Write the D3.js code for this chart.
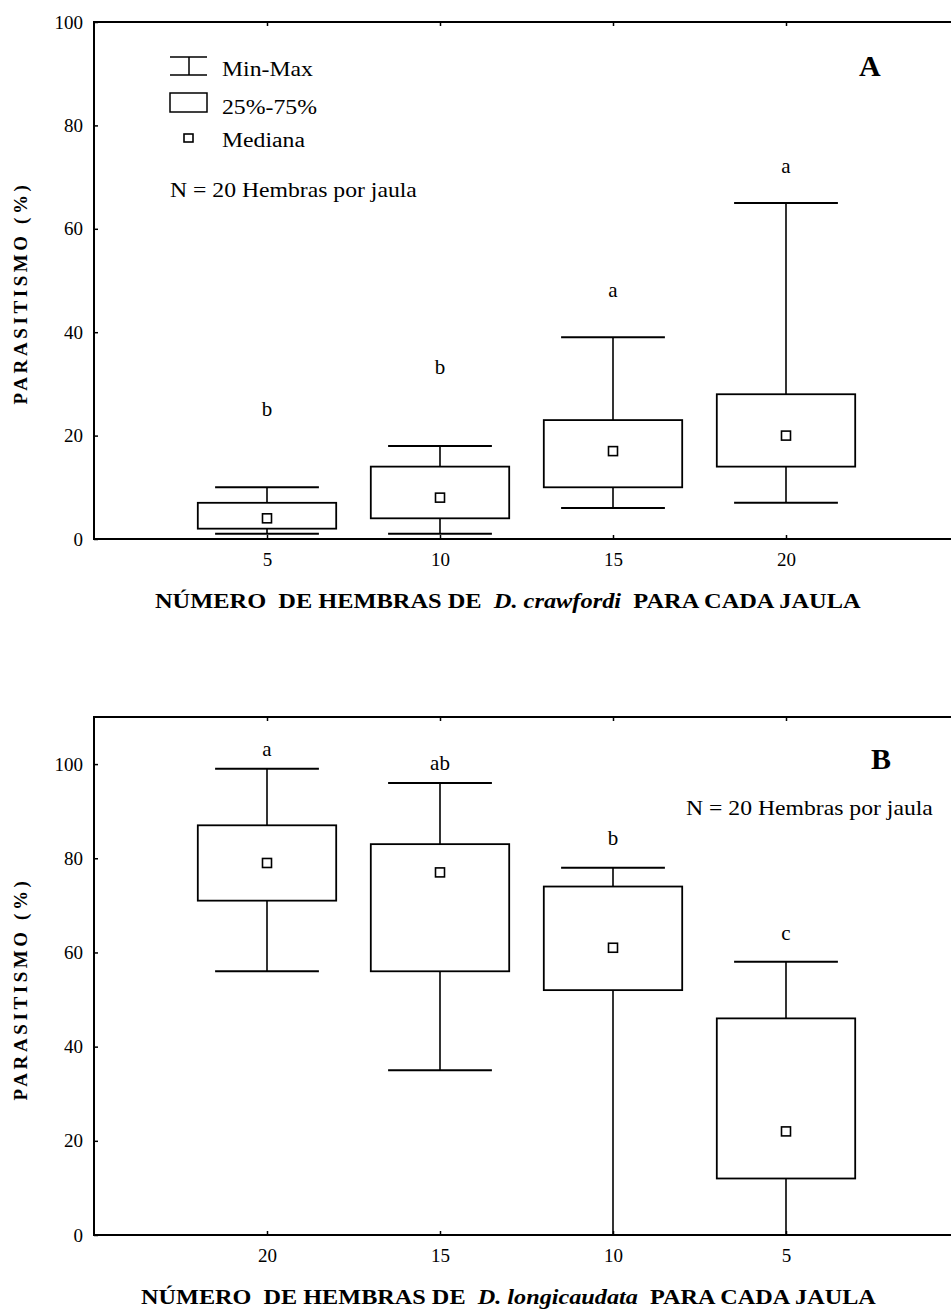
<!DOCTYPE html>
<html>
<head>
  <style>
    body { margin: 0; background: #fff; }
    svg text { font-family: "Liberation Serif", "Times New Roman", serif; fill: #000; }
    .tick-label { font-size: 19px; }
    .axis-title { font-size: 20px; font-weight: bold; }
    .y-title { font-size: 19px; font-weight: bold; letter-spacing: 3.6px; }
    .panel-tag { font-size: 30px; font-weight: bold; }
    .note { font-size: 21px; }
    .legend-text { font-size: 20px; }
    .letter { font-size: 21px; }
  </style>
</head>
<body>
  <script src="https://d3js.org/d3.v7.min.js"></script>
  <script>
    // Panel A: D. crawfordi
    const catsA = ['5', '10', '15', '20'];
    const minA = [1, 1, 6, 7];
    const q1A = [2, 4, 10, 14];
    const medA = [4, 8, 17, 20];
    const q3A = [7, 14, 23, 28];
    const maxA = [10, 18, 39, 65];
    const lettersA = ['b', 'b', 'a', 'a'];
    const letterAtA = [25, 33, 48, 72];
    const yTicksA = [0, 20, 40, 60, 80, 100];

    // Panel B: D. longicaudata
    const catsB = ['20', '15', '10', '5'];
    const minB = [56, 35, 0, 0];
    const q1B = [71, 56, 52, 12];
    const medB = [79, 77, 61, 22];
    const q3B = [87, 83, 74, 46];
    const maxB = [99, 96, 78, 58];
    const lettersB = ['a', 'ab', 'b', 'c'];
    const letterAtB = [103, 100, 84, 64];
    const yTicksB = [0, 20, 40, 60, 80, 100];

    const legendText = ['Min-Max', '25%-75%', 'Mediana'];

    const width = 951;
    const height = 1312;

    const svg = d3.select('body')
      .append('svg')
      .attr('width', width)
      .attr('height', height)
      .attr('font-family', 'Liberation Serif');

    // the scanned original is stretched sideways: widen text to a target width
    function stretchTo(sel, x, y, w) {
      const natural = sel.node().getComputedTextLength();
      sel.attr('x', 0).attr('y', 0)
        .attr('transform', `translate(${x},${y}) scale(${w / natural},1)`);
    }

    function drawPanel(p) {
      const g = svg.append('g');

      const x = d3.scalePoint()
        .domain(p.cats)
        .range([p.left, p.right])
        .padding(1);

      const y = d3.scaleLinear()
        .domain([0, p.yMax])
        .range([p.bottom, p.top]);

      const step = x.step();
      const boxW = step * 0.8;
      const capW = step * 0.6;

      const rows = p.cats.map((c, i) => ({
        cat: c, min: p.min[i], q1: p.q1[i], med: p.med[i], q3: p.q3[i], max: p.max[i],
        letter: p.letters[i], letterAt: p.letterAt[i]
      }));

      // frame
      g.append('rect')
        .attr('x', p.left).attr('y', p.top)
        .attr('width', p.right - p.left).attr('height', p.bottom - p.top)
        .attr('fill', 'none').attr('stroke', '#000').attr('stroke-width', 2);

      // y axis
      const yAxis = d3.axisLeft(y).tickValues(p.yTicks).tickSize(-4).tickPadding(11);
      const ya = g.append('g').attr('transform', `translate(${p.left},0)`).call(yAxis);
      ya.attr('font-family', null).attr('font-size', null);
      ya.select('.domain').remove();
      ya.selectAll('line').attr('stroke', '#000').attr('stroke-width', 1.5);
      ya.selectAll('text').attr('class', 'tick-label');

      // x axis
      const xAxis = d3.axisBottom(x).tickSize(-4).tickPadding(14);
      const xa = g.append('g').attr('transform', `translate(0,${p.bottom})`).call(xAxis);
      xa.attr('font-family', null).attr('font-size', null);
      xa.select('.domain').remove();
      xa.selectAll('line').attr('stroke', '#000').attr('stroke-width', 1.5);
      xa.selectAll('text').attr('class', 'tick-label');

      const xTop = d3.axisTop(x).tickSize(-4).tickFormat('');
      const xt = g.append('g').attr('transform', `translate(0,${p.top})`).call(xTop);
      xt.select('.domain').remove();
      xt.selectAll('line').attr('stroke', '#000').attr('stroke-width', 1.5);

      // boxes
      const b = g.selectAll('.box').data(rows).enter().append('g').attr('class', 'box');

      b.append('line')
        .attr('x1', d => x(d.cat)).attr('x2', d => x(d.cat))
        .attr('y1', d => y(d.q3)).attr('y2', d => y(d.max))
        .attr('stroke', '#000').attr('stroke-width', 1.6);
      b.append('line')
        .attr('x1', d => x(d.cat)).attr('x2', d => x(d.cat))
        .attr('y1', d => y(d.q1)).attr('y2', d => y(d.min))
        .attr('stroke', '#000').attr('stroke-width', 1.6);
      b.append('line')
        .attr('x1', d => x(d.cat) - capW / 2).attr('x2', d => x(d.cat) + capW / 2)
        .attr('y1', d => y(d.max)).attr('y2', d => y(d.max))
        .attr('stroke', '#000').attr('stroke-width', 2);
      b.append('line')
        .attr('x1', d => x(d.cat) - capW / 2).attr('x2', d => x(d.cat) + capW / 2)
        .attr('y1', d => y(d.min)).attr('y2', d => y(d.min))
        .attr('stroke', '#000').attr('stroke-width', 2);
      b.append('rect')
        .attr('x', d => x(d.cat) - boxW / 2)
        .attr('y', d => y(d.q3))
        .attr('width', boxW)
        .attr('height', d => y(d.q1) - y(d.q3))
        .attr('fill', '#fff').attr('stroke', '#000').attr('stroke-width', 1.8);
      b.append('rect')
        .attr('x', d => x(d.cat) - 4.5)
        .attr('y', d => y(d.med) - 4.5)
        .attr('width', 9).attr('height', 9)
        .attr('fill', '#fff').attr('stroke', '#000').attr('stroke-width', 1.6);
      b.append('text')
        .attr('class', 'letter')
        .attr('x', d => x(d.cat))
        .attr('y', d => y(d.letterAt) + 6)
        .attr('text-anchor', 'middle')
        .text(d => d.letter);

      // axis titles
      g.append('text')
        .attr('class', 'y-title')
        .attr('transform', `translate(27,${p.yTitleY}) rotate(-90)`)
        .attr('text-anchor', 'middle')
        .text('PARASITISMO  (%)');

      const title = g.append('text')
        .attr('class', 'axis-title')
        .attr('xml:space', 'preserve');
      title.append('tspan').text('NÚMERO  DE HEMBRAS DE  ');
      title.append('tspan').attr('font-style', 'italic').text(p.species);
      title.append('tspan').text('  PARA CADA JAULA');
      stretchTo(title, p.titleX, p.bottom + 69, p.titleW);

      g.append('text')
        .attr('class', 'panel-tag')
        .attr('x', p.tagX).attr('y', p.tagY)
        .text(p.tag);

      const note = g.append('text')
        .attr('class', 'note')
        .text('N = 20 Hembras por jaula');
      stretchTo(note, p.noteX, p.noteY, 247);

      return g;
    }

    const gA = drawPanel({
      cats: catsA, min: minA, q1: q1A, med: medA, q3: q3A, max: maxA,
      letters: lettersA, letterAt: letterAtA, yTicks: yTicksA, yMax: 100,
      left: 94, right: 959, top: 22, bottom: 539,
      yTitleY: 293, species: 'D. crawfordi', titleX: 155, titleW: 706,
      tag: 'A', tagX: 859, tagY: 76, noteX: 170, noteY: 197
    });

    drawPanel({
      cats: catsB, min: minB, q1: q1B, med: medB, q3: q3B, max: maxB,
      letters: lettersB, letterAt: letterAtB, yTicks: yTicksB, yMax: 110,
      left: 94, right: 959, top: 717, bottom: 1235,
      yTitleY: 989, species: 'D. longicaudata', titleX: 141, titleW: 735,
      tag: 'B', tagX: 871, tagY: 769, noteX: 686, noteY: 815
    });

    // legend (panel A)
    const lg = gA.append('g');
    lg.append('path')
      .attr('d', 'M170,57 H207 M189,57 V75 M170,75 H207')
      .attr('fill', 'none').attr('stroke', '#000').attr('stroke-width', 1.5);
    lg.append('rect')
      .attr('x', 170).attr('y', 93).attr('width', 37).attr('height', 19)
      .attr('fill', 'none').attr('stroke', '#000').attr('stroke-width', 1.5);
    lg.append('rect')
      .attr('x', 184).attr('y', 134).attr('width', 9).attr('height', 8)
      .attr('fill', 'none').attr('stroke', '#000').attr('stroke-width', 1.6);
    const legendBase = [76, 114, 147];
    const legendW = [91, 95, 83];
    lg.selectAll('.lt').data(legendText).enter().append('text')
      .attr('class', 'legend-text')
      .text(d => d)
      .each(function (d, i) {
        stretchTo(d3.select(this), 222, legendBase[i], legendW[i]);
      });
  </script>
</body>
</html>
